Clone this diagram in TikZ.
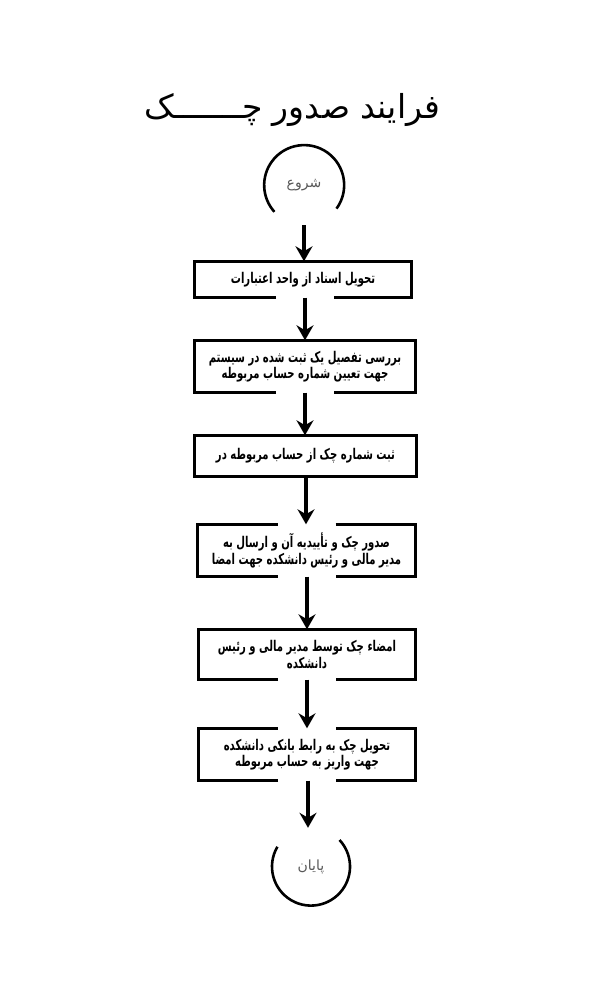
\documentclass[tikz,border=0pt]{standalone}
\usepackage{fontspec}
\usetikzlibrary{arrows.meta}
\TeXXeTstate=1
\newfontfamily\arabicfont[Script=Arabic]{DejaVu Sans}
\newfontfamily\boxfont[Script=Arabic,FakeStretch=0.68]{DejaVu Sans}
\tikzset{
  stepbox/.style={draw=none, font=\boxfont\bfseries\fontsize{14.8}{16.5}\selectfont, align=center, inner sep=0pt},
  edge/.style={line width=3.5pt, line join=miter, line cap=butt},
  arr/.style={line width=3.2pt, -{Stealth[length=15pt,width=17pt,inset=5pt]}},
  term/.style={circle, minimum size=80pt, inner sep=0pt, draw=none, font=\arabicfont\fontsize{14}{16}\selectfont, text=black!65},
  ring/.style={line width=2.6pt},
}
\begin{document}
\begin{tikzpicture}[x=1pt,y=1pt]
\useasboundingbox[fill=white] (0,0) rectangle (600,1000);
% title
\node[font=\arabicfont\fontsize{33}{36}\selectfont] (title) at (292.5,890) {\beginR فرایند صدور چـــــــک\endR};
% terminals
\node[term] (start) at (304,815) {\beginR شروع\endR};
\draw[ring] (start.-36) arc[start angle=-36, end angle=222, radius=40];
\node[term, minimum size=78pt] (end) at (311,133) {\beginR پایان\endR};
\draw[ring] (end.149.5) arc[start angle=149.5, end angle=403, radius=39];
% boxes
\node[stepbox, minimum width=217pt, minimum height=36pt] (b1) at (303,720.5) {\beginR تحویل اسناد از واحد اعتبارات\endR};
\node[stepbox, minimum width=221pt, minimum height=52pt] (b2) at (305,633.5) {\beginR بررسی تفصیل یک ثبت شده در سیستم\endR\\\beginR جهت تعیین شماره حساب مربوطه\endR};
\node[stepbox, minimum width=222pt, minimum height=41pt] (b3) at (305.5,544) {\beginR ثبت شماره چک از حساب مربوطه در\endR};
\node[stepbox, minimum width=218pt, minimum height=52pt] (b4) at (306.5,449.5) {\beginR صدور چک و تأییدیه آن و ارسال به\endR\\\beginR مدیر مالی و رئیس دانشکده جهت امضا\endR};
\node[stepbox, minimum width=217pt, minimum height=50pt] (b5) at (307,345.5) {\beginR امضاء چک توسط مدیر مالی و رئیس\endR\\\beginR دانشکده\endR};
\node[stepbox, minimum width=217pt, minimum height=52pt] (b6) at (307,245.5) {\beginR تحویل چک به رابط بانکی دانشکده\endR\\\beginR جهت واریز به حساب مربوطه\endR};
% borders (with the gaps of the reference)
\draw[edge] ([xshift=-27pt]b1.south) -| (b1.north west) -- (b1.north east) |- ([xshift=31pt]b1.south);
\draw[edge] ([xshift=-29pt]b2.south) -| (b2.north west) -- (b2.north east) |- ([xshift=29pt]b2.south);
\draw[edge] (b3.south west) rectangle (b3.north east);
\draw[edge] ([xshift=-29pt]b4.south) -| (b4.north west) -- ([xshift=-29pt]b4.north);
\draw[edge] ([xshift=29pt]b4.north) -| (b4.south east) -- ([xshift=29pt]b4.south);
\draw[edge] ([xshift=-29pt]b5.south) -| (b5.north west) -- (b5.north east) |- ([xshift=29pt]b5.south);
\draw[edge] ([xshift=-29pt]b6.south) -| (b6.north west) -- ([xshift=-29pt]b6.north);
\draw[edge] ([xshift=29pt]b6.north) -| (b6.south east) -- ([xshift=29pt]b6.south);
% arrows
\draw[arr] (start.south) -- (start.south |- b1.north);
\draw[arr] ([xshift=2pt]b1.south) -- (b2.north);
\draw[arr] (b2.south) -- (b2.south |- b3.north);
\draw[arr] ([xshift=0.5pt]b3.south) -- ([xshift=0.5pt]b3.south |- b4.north);
\draw[arr] ([xshift=0.5pt]b4.south) -- ([xshift=0.5pt]b4.south |- b5.north);
\draw[arr] (b5.south) -- (b6.north);
\draw[arr] ([xshift=1pt]b6.south) -- ([xshift=1pt]b6.south |- end.north);
\end{tikzpicture}
\end{document}
